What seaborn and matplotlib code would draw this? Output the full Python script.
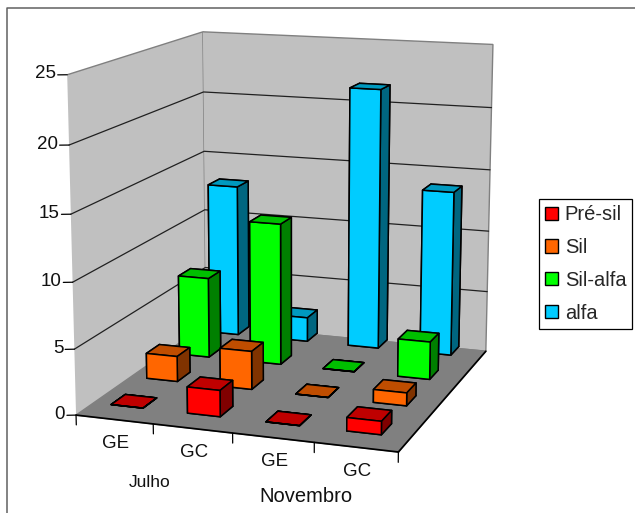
import numpy as np
import matplotlib
matplotlib.use("Agg")
import matplotlib.pyplot as plt
from matplotlib.lines import Line2D
from matplotlib.patches import Patch
from mpl_toolkits.mplot3d import proj3d
import seaborn as sns

sns.set_theme(style="white")
plt.rcParams['font.family'] = ['Liberation Sans', 'DejaVu Sans']

categories = ["GE", "GC", "GE", "GC"]
groups = ["Julho", "Novembro"]
series = ["Pré-sil", "Sil", "Sil-alfa", "alfa"]
pre_sil = [0, 2, 0, 1]
sil = [2, 3, 0, 1]
sil_alfa = [6.5, 11.4, 0, 3]
alfa = [12.6, 2, 21.3, 13.4]
values = [pre_sil, sil, sil_alfa, alfa]
z_ticks = [0, 5, 10, 15, 20, 25]
front_colors = ["#FF0000", "#FF6600", "#00FF00", "#00CCFF"]
top_colors = ["#BF0000", "#BF4D00", "#00BF00", "#0099BF"]
side_colors = ["#800000", "#803300", "#008000", "#006680"]

W, H = 635, 513
fig = plt.figure(figsize=(W / 100, H / 100), dpi=100)
fig.add_artist(Line2D([6.5 / W, 6.5 / W, 1], [0, 1 - 7.5 / H, 1 - 7.5 / H], transform=fig.transFigure,
                      color="#606060", lw=1.1))
L = 557.0
ax = fig.add_axes([5.9 / W, 3.8 / H, L / W, L / H], projection="3d")
ax.patch.set_alpha(0)
ax.set_proj_type("persp", focal_length=0.639)
ax.view_init(elev=12.76, azim=-70.9)
ax.set_box_aspect((0.95, 1, 0.973))
ax.set_xlim(0, 4); ax.set_ylim(0, 4); ax.set_zlim(0, 25)
ax.computed_zorder = False

bar_w, bar_d = 0.42, 0.40
for j, vals in enumerate(values):
    for i, v in enumerate(vals):
        # face order: bottom, top, front, back, left, right
        faces = [top_colors[j], top_colors[j], front_colors[j], side_colors[j], side_colors[j], side_colors[j]]
        ax.bar3d(i + (1 - bar_w) / 2 - 0.06 - 0.015 * j, j + (1 - bar_d) / 2 + 0.18 + 0.07 * j, 0,
                 bar_w, bar_d, v if v > 0 else 0.001,
                 color=faces, edgecolor="black", linewidth=1.1, shade=False, zsort="max",
                 zorder=10 + (3 - j) * 10 + i)

ax.grid(False)
ax.set_xticks([]); ax.set_yticks([]); ax.set_zticks([])
ax.xaxis.set_pane_color("#C0C0C0"); ax.yaxis.set_pane_color("#C0C0C0"); ax.zaxis.set_pane_color("#808080")
ax.xaxis.pane.set_edgecolor("#808080"); ax.yaxis.pane.set_edgecolor("#808080"); ax.zaxis.pane.set_edgecolor("#808080")
ax.xaxis.line.set_color("black"); ax.yaxis.line.set_color("black"); ax.zaxis.line.set_color((0, 0, 0, 0))

for z in z_ticks[1:-1]:
    ax.plot([0, 0, 4], [0, 4, 4], [z, z, z], color="#202020", lw=0.9, zorder=1)
for z in z_ticks:
    ax.plot([0, -0.1], [0, -0.04], [z, z], color="black", lw=0.9, zorder=1)
for x in range(5):
    ax.plot([x, x], [0, 0], [0, -0.75], color="black", lw=0.9, zorder=1)


def place(x, y, z, text, dx, dy, **kw):
    px, py, _ = proj3d.proj_transform(x, y, z, ax.get_proj())
    ax.annotate(text, xy=(px, py), xycoords="data", xytext=(dx * 0.72, dy * 0.72), textcoords="offset points", annotation_clip=False, **kw)


for z in z_ticks:
    place(0, 0, z, str(z), -11, 1, ha="right", va="center", fontsize=13.5, color="#111111")
for i, c in enumerate(categories):
    place(i + 0.5, 0, 0, c, 1, -24, ha="center", va="center", fontsize=13.5, color="#111111")
place(1, 0, 0, groups[0], -4, -59, ha="center", va="center", fontsize=12.5, color="#111111")
place(3, 0, 0, groups[1], -8, -54, ha="center", va="center", fontsize=14.5, color="#111111")

leg = fig.legend(handles=[Patch(fc=c, ec="black", label=s) for c, s in zip(front_colors, series)],
                 loc="center", bbox_to_anchor=(585.5 / W, 1 - 264 / H), fontsize=14.5, fancybox=False,
                 edgecolor="black", framealpha=1, handlelength=0.65, handleheight=0.65,
                 labelspacing=0.68, borderpad=0.3, handletextpad=0.35, borderaxespad=0)
leg.get_frame().set_linewidth(0.9)
leg.set_zorder(50)
fig.savefig("out.png", dpi=100)
